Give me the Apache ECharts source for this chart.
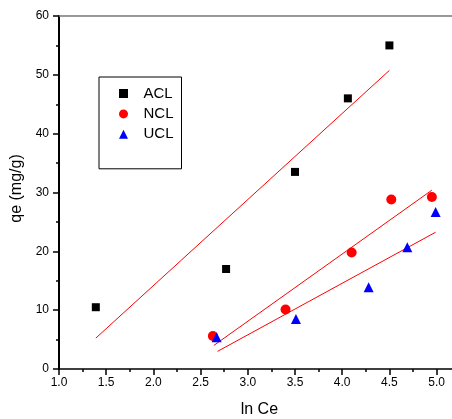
<!DOCTYPE html>
<html>
<head>
<meta charset="utf-8">
<script src="https://cdn.jsdelivr.net/npm/echarts@6/dist/echarts.min.js"></script>
<style>
html,body{margin:0;padding:0;background:#fff;}
#chart{width:452px;height:419px;}
</style>
</head>
<body>
<div id="chart"></div>
<script>
const seriesNames = ['ACL', 'NCL', 'UCL'];
const aclX = [1.39, 2.77, 3.50, 4.06, 4.50];
const aclY = [10.5, 17.0, 33.5, 46.0, 55.0];
const nclX = [2.63, 3.40, 4.10, 4.52, 4.95];
const nclY = [5.6, 10.1, 19.8, 28.8, 29.25];
const uclX = [2.67, 3.51, 4.28, 4.69, 4.99];
const uclY = [5.4, 8.5, 13.9, 20.7, 26.7];
const aclFitX = [1.39, 4.50];
const aclFitY = [5.25, 50.75];
const nclFitX = [2.64, 4.95];
const nclFitY = [4.0, 30.4];
const uclFitX = [2.68, 4.99];
const uclFitY = [3.0, 23.25];
const xTitle = 'ln Ce';
const yTitle = 'qe (mg/g)';

const FONT = "'Liberation Sans', Arial, sans-serif";
const zip = (xs, ys) => xs.map((x, i) => [x, ys[i]]);

const chart = echarts.init(document.getElementById('chart'), null, {renderer: 'canvas'});
const fitLine = (name, xs, ys) => ({
  name: name, type: 'line', data: zip(xs, ys), symbol: 'none', silent: true,
  lineStyle: {color: '#ff0000', width: 1}, z: 1, animation: false
});
chart.setOption({
  animation: false,
  backgroundColor: '#fff',
  grid: {left: 59, top: 16, width: 424.8, height: 353, containLabel: false, outerBoundsMode: 'none'},
  legend: {
    data: seriesNames, orient: 'vertical', left: 99, top: 77,
    padding: [9, 8, 27, 20], itemWidth: 9, itemHeight: 9, itemGap: 5.4,
    borderColor: '#000', borderWidth: 1, backgroundColor: '#fff',
    textStyle: {fontFamily: FONT, fontSize: 15, color: '#000', padding: [0, 0, 0, 10.5]}
  },
  xAxis: [{
    type: 'value', min: 1, max: 5.5, interval: 0.5,
    name: xTitle, nameLocation: 'middle', nameGap: 33,
    nameTextStyle: {fontFamily: FONT, fontSize: 16, color: '#000', padding: [0, 24, 0, 0]},
    axisLine: {lineStyle: {color: '#000', width: 1.5}},
    axisTick: {show: true, inside: false, length: 6, lineStyle: {color: '#000', width: 1.5}},
    minorTick: {show: true, splitNumber: 2, length: 3, lineStyle: {color: '#000', width: 1.5}},
    axisLabel: {fontFamily: FONT, fontSize: 12, color: '#000', margin: 8, formatter: v => v.toFixed(1)},
    splitLine: {show: false}
  }, {
    type: 'value', position: 'top', min: 1, max: 5.5,
    axisLine: {show: true, lineStyle: {color: '#777', width: 1.7}},
    axisTick: {show: false}, axisLabel: {show: false}, splitLine: {show: false}
  }],
  yAxis: {
    type: 'value', min: 0, max: 60, interval: 10,
    name: yTitle, nameLocation: 'middle', nameGap: 31,
    nameTextStyle: {fontFamily: FONT, fontSize: 16, color: '#000', padding: [0, 0, 0, 8]},
    axisLine: {show: true, lineStyle: {color: '#000', width: 2}},
    axisTick: {show: true, inside: false, length: 6, lineStyle: {color: '#000', width: 1.5}},
    minorTick: {show: true, splitNumber: 2, length: 3, lineStyle: {color: '#000', width: 1.5}},
    axisLabel: {fontFamily: FONT, fontSize: 12, color: '#000', margin: 10},
    splitLine: {show: false}
  },
  series: [
    fitLine('ACL fit', aclFitX, aclFitY),
    fitLine('NCL fit', nclFitX, nclFitY),
    fitLine('UCL fit', uclFitX, uclFitY),
    {name: 'ACL', type: 'scatter', data: zip(aclX, aclY), symbol: 'rect', symbolSize: 8,
     itemStyle: {color: '#000', opacity: 1}, z: 3},
    {name: 'NCL', type: 'scatter', data: zip(nclX, nclY), symbol: 'circle', symbolSize: 10,
     itemStyle: {color: '#ff0000', opacity: 1}, z: 3},
    {name: 'UCL', type: 'scatter', data: zip(uclX, uclY), symbol: 'triangle', symbolSize: 10,
     itemStyle: {color: '#0000ff', opacity: 1}, z: 3}
  ]
});
</script>
</body>
</html>
